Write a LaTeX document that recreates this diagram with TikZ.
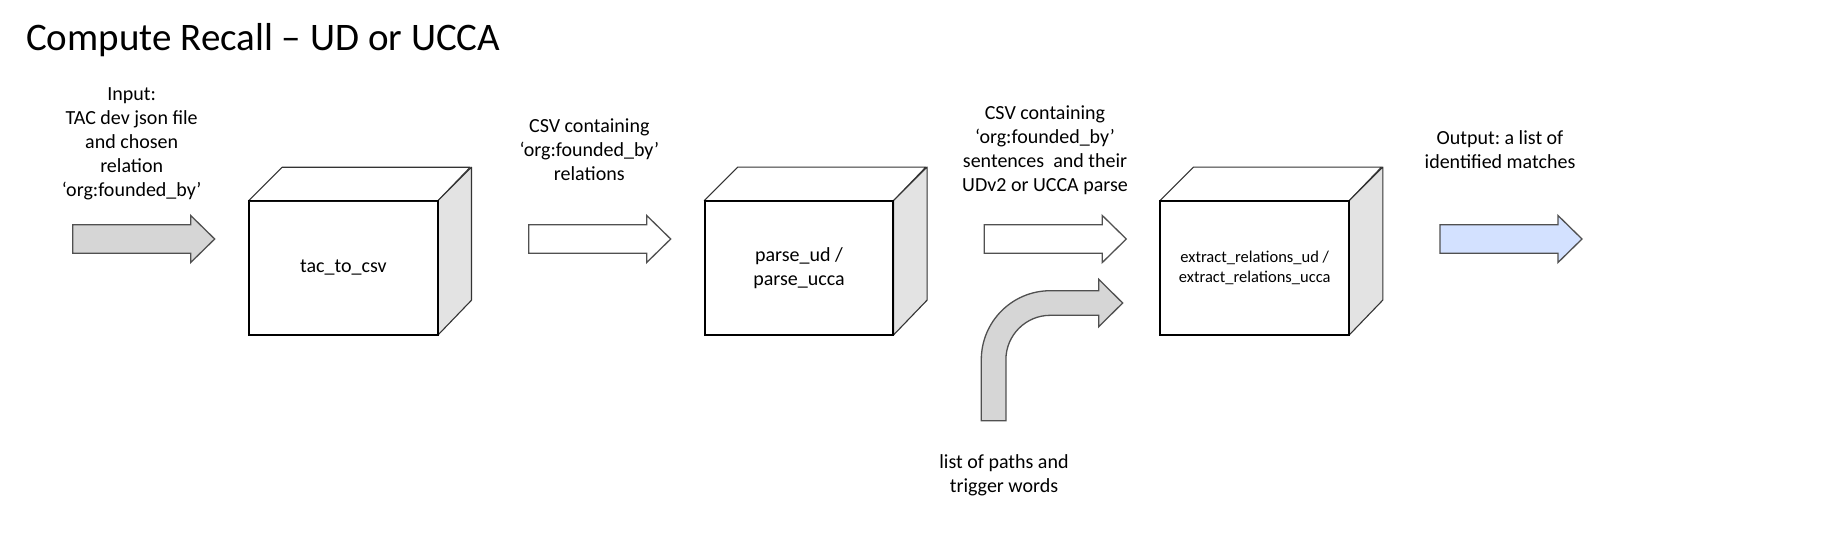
\documentclass[tikz,border=0pt]{standalone}
\usepackage{fontspec}
\setmainfont{Carlito}
\usetikzlibrary{calc}
\definecolor{arrowgray}{HTML}{D6D6D6}
\definecolor{arrowline}{HTML}{505050}
\definecolor{sidegray}{HTML}{E3E3E3}
\definecolor{outblue}{HTML}{D3E1FF}
\tikzset{
  lbl/.style={align=center, inner sep=0pt, font=\fontsize{20}{24}\selectfont\frenchspacing},
  boxface/.style={draw=black, line width=1.3pt, fill=white, minimum width=188pt, minimum height=133pt, inner sep=0pt, align=center, font=\fontsize{20}{24}\selectfont},
  boxedge/.style={draw=black!80, line width=1.1pt, line join=round},
  blockarr/.style={draw=arrowline, line width=1.3pt, line join=miter},
  pics/blockarrow/.style={code={
    \path[pic actions] (0,-14.3) -- (118,-14.3) -- (118,-23.5) -- (142,0) -- (118,23.5) -- (118,14.3) -- (0,14.3) -- cycle;
  }}
}
\newcommand{\cubebox}[1]{%
  \path[boxedge, fill=white] (#1.north west) -- ++(33.5,-33.5) -- ++(188,0) -- (#1.north east) -- cycle;
  \path[boxedge, fill=sidegray] (#1.north east) -- ++(33.5,-33.5) -- ++(0,133) -- (#1.south east) -- cycle;
  \draw[black, line width=1.3pt] (#1.south west) rectangle (#1.north east);
}
\begin{document}
\frenchspacing
\begin{tikzpicture}[x=1pt, y=-1pt]
\useasboundingbox (0,0) rectangle (1832,558);
\fill[white] (0,0) rectangle (1832,558);

\node[anchor=base west, inner sep=0pt, font=\fontsize{39}{46}\selectfont] (title) at (26,50) {Compute Recall – UD or UCCA};

% boxes
\node[boxface] (b1) at (343.3,267.9) {tac\_to\_csv};
\node[boxface] (b2) at (799,267.7) {parse\_ud /\\parse\_ucca};
\node[boxface, font=\fontsize{16.5}{20}\selectfont] (b3) at (1254.7,267.7) {extract\_relations\_ud /\\extract\_relations\_ucca};
\cubebox{b1}
\cubebox{b2}
\cubebox{b3}

% labels
\node[lbl] (tin) at (131.7,144) {Input:\\TAC dev json file\\and chosen\\relation\\‘org:founded\_by’};
\node[lbl] (tcsv) at (589.3,150) {CSV containing\\‘org:founded\_by’\\relations};
\node[lbl] (tparse) at (1045,150) {CSV containing\\‘org:founded\_by’\\sentences\ \ and their\\UDv2 or UCCA parse};
\node[lbl] (tout) at (1500,150) {Output: a list of\\identified matches};
\node[lbl] (tpaths) at (1004,475) {list of paths and\\trigger words};

% block arrows
\pic[blockarr, fill=arrowgray] (ain) at (72.7,239) {blockarrow};
\pic[blockarr, fill=white] (acsv) at (528.7,239) {blockarrow};
\pic[blockarr, fill=white] (aparse) at (984.3,239) {blockarrow};
\pic[blockarr, fill=outblue] (aout) at (1440,239) {blockarrow};

% bent arrow
\path[blockarr, fill=arrowgray] (981.3,420.7) -- (981.3,359.7)
  arc[start angle=180, end angle=270, radius=69] -- (1098.7,290.7) -- (1098.7,279.3)
  -- (1122.7,303) -- (1098.7,326.7) -- (1098.7,315.3) -- (1050.3,315.3)
  arc[start angle=270, end angle=180, radius=44.4] -- (1005.9,420.7) -- cycle;
\end{tikzpicture}
\end{document}
